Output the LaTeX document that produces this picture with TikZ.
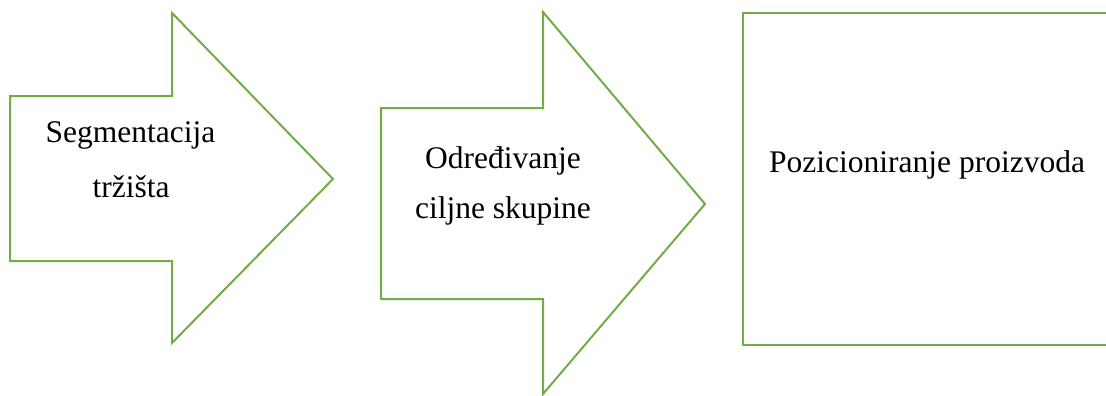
\documentclass[tikz,border=0pt]{standalone}
\usepackage{fontspec}
\setmainfont{Liberation Serif}
\definecolor{arrgreen}{RGB}{112,173,71}
\tikzset{
  shapeline/.style={draw=arrgreen, line width=2pt, line join=miter},
  label/.style={font=\fontsize{31.5}{38}\selectfont, inner sep=0pt, anchor=base, text=black},
}
\begin{document}
\begin{tikzpicture}[x=1pt,y=-1pt]
\useasboundingbox (0,0) rectangle (1106,396);
% arrow 1
\draw[shapeline] (10,96) -- (172,96) -- (172,13) -- (333,179) -- (172,343) -- (172,261) -- (10,261) -- cycle;
% arrow 2
\draw[shapeline] (381,108) -- (543,108) -- (543,12) -- (705,204) -- (543,394) -- (543,299) -- (381,299) -- cycle;
% box (right side cut by the page edge)
\draw[shapeline] (1110,13) -- (743,13) -- (743,345) -- (1110,345);
% texts
\node[label] (t1) at (130.5,142) {Segmentacija};
\node[label] (t2) at (131,197) {tržišta};
\node[label] (t3) at (503,168) {Određivanje};
\node[label] (t4) at (503,218) {ciljne skupine};
\node[label, anchor=base west] (t5) at (769,172) {Pozicioniranje proizvoda};
\end{tikzpicture}
\end{document}
